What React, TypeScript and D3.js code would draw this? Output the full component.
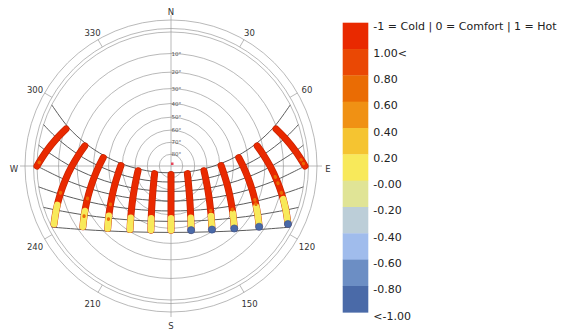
import { useEffect, useRef } from "react";
import * as d3 from "d3";

type Pos = [number, number]; // [azimuth deg, altitude deg]

const ALTITUDE_RINGS = [10, 20, 30, 40, 50, 60, 70, 80];
const AZIMUTH_LABELS = [30, 60, 120, 150, 210, 240, 300, 330];
const CARDINALS: [string, number][] = [
  ["N", 0],
  ["E", 90],
  ["S", 180],
  ["W", 270],
];

// daily sun-path arcs, sunrise -> sunset, summer to winter
const ARC_1: Pos[] = [
  [62.86, 0], [69.29, 11.23], [75.41, 23.69], [81.24, 36.49], [87.41, 49.5],
  [95.23, 62.57], [110.08, 75.36], [180, 84.14], [249.92, 75.36], [264.77, 62.57],
  [272.59, 49.5], [278.76, 36.49], [284.59, 23.69], [290.71, 11.23], [297.14, 0],
];
const ARC_2: Pos[] = [
  [72.01, 0], [76.29, 7.58], [83.08, 20.44], [90.05, 33.49], [98.22, 46.53],
  [109.79, 59.22], [131.49, 70.57], [180, 76.33], [228.51, 70.57], [250.21, 59.22],
  [261.78, 46.53], [269.95, 33.49], [276.92, 20.44], [283.71, 7.58], [287.99, 0],
];
const ARC_3: Pos[] = [
  [81.04, 0], [83.18, 3.81], [90.42, 16.87], [98.22, 29.9], [107.76, 42.64],
  [121.32, 54.56], [143.76, 64.3], [180, 68.51], [216.24, 64.3], [238.68, 54.56],
  [252.24, 42.64], [261.78, 29.9], [269.58, 16.87], [276.82, 3.81], [278.96, 0],
];
const ARC_4: Pos[] = [
  [90, 0], [97.47, 13.04], [105.78, 25.85], [116.08, 38.07], [130.29, 49.05],
  [151.3, 57.39], [180, 60.7], [208.7, 57.39], [229.71, 49.05], [243.92, 38.07],
  [254.22, 25.85], [262.53, 13.04], [270, 0],
];
const ARC_5: Pos[] = [
  [98.96, 0], [104.3, 9.04], [112.81, 21.44], [123.37, 32.99], [137.39, 42.98],
  [156.39, 50.18], [180, 52.89], [203.61, 50.18], [222.61, 42.98], [236.63, 32.99],
  [247.19, 21.44], [255.7, 9.04], [261.04, 0],
];
const ARC_6: Pos[] = [
  [107.99, 0], [110.99, 4.91], [119.43, 16.74], [129.84, 27.52], [143.18, 36.55],
  [160.16, 42.79], [180, 45.07], [199.84, 42.79], [216.82, 36.55], [230.16, 27.52],
  [240.57, 16.74], [249.01, 4.91], [252.01, 0],
];
const ARC_7: Pos[] = [
  [117.14, 0], [117.59, 0.71], [125.72, 11.85], [135.69, 21.78], [148.06, 29.88],
  [163.08, 35.32], [180, 37.26], [196.92, 35.32], [211.94, 29.88], [224.31, 21.78],
  [234.28, 11.85], [242.41, 0.71], [242.86, 0],
];
const DAY_ARCS = [ARC_1, ARC_2, ARC_3, ARC_4, ARC_5, ARC_6, ARC_7];

// hourly sun positions through the year, summer end -> winter end
const HOURS = [6, 7, 8, 9, 10, 11, 12, 13, 14, 15, 16, 17, 18];
const HOUR_TRACKS: Pos[][] = [
  [[70.59, 10.56], [76.29, 7.58], [83.18, 3.81], [90, 0]],
  [[76.85, 23.12], [83.08, 20.44], [90.42, 16.87], [97.47, 13.04], [104.3, 9.04], [110.99, 4.91], [116.38, 1.49]],
  [[82.91, 35.99], [90.05, 33.49], [98.22, 29.9], [105.78, 25.85], [112.81, 21.44], [119.43, 16.74], [124.58, 12.77]],
  [[89.49, 49.03], [98.22, 46.53], [107.76, 42.64], [116.08, 38.07], [123.37, 32.99], [129.84, 27.52], [134.64, 22.86]],
  [[98.14, 62.08], [109.79, 59.22], [121.32, 54.56], [130.29, 49.05], [137.39, 42.98], [143.18, 36.55], [147.2, 31.13]],
  [[114.94, 74.66], [131.49, 70.57], [143.76, 64.3], [151.3, 57.39], [156.39, 50.18], [160.16, 42.79], [162.58, 36.7]],
  [[180, 82.7], [180, 76.33], [180, 68.51], [180, 60.7], [180, 52.89], [180, 45.07], [180, 38.7]],
  [[245.06, 74.66], [228.51, 70.57], [216.24, 64.3], [208.7, 57.39], [203.61, 50.18], [199.84, 42.79], [197.42, 36.7]],
  [[261.86, 62.08], [250.21, 59.22], [238.68, 54.56], [229.71, 49.05], [222.61, 42.98], [216.82, 36.55], [212.8, 31.13]],
  [[270.51, 49.03], [261.78, 46.53], [252.24, 42.64], [243.92, 38.07], [236.63, 32.99], [230.16, 27.52], [225.36, 22.86]],
  [[277.09, 35.99], [269.95, 33.49], [261.78, 29.9], [254.22, 25.85], [247.19, 21.44], [240.57, 16.74], [235.42, 12.77]],
  [[283.15, 23.12], [276.92, 20.44], [269.58, 16.87], [262.53, 13.04], [255.7, 9.04], [249.01, 4.91], [243.62, 1.49]],
  [[289.41, 10.56], [283.71, 7.58], [276.82, 3.81], [270, 0]],
];

// comfort along each hour track (share of the track length, from the summer end)
const HOT_UNTIL = [1, 0.7, 0.72, 0.76, 0.77, 0.78, 0.78, 0.79, 0.8, 0.8, 0.78, 0.77, 1];
const WARM_SPOTS: number[][] = [
  [0.84, 0.93], [0.42, 0.5, 0.62], [0.62, 0.68], [0.7], [0.68], [], [], [], [],
  [0.62, 0.85], [0.6, 0.85], [0.62], [0.9],
];
const COLD_END = [false, true, true, true, true, true, false, false, false, false, false, false, false];

const LEGEND_COLORS = [
  "#e92900", "#ea4804", "#ea6c04", "#f09114", "#f5c431", "#f8e95a",
  "#e0e496", "#bcced8", "#a0bcec", "#6c8ec4", "#4a6aa8",
];
const LEGEND_LABELS = [
  "-1 = Cold | 0 = Comfort | 1 = Hot", "1.00<", "0.80", "0.60", "0.40", "0.20",
  "-0.00", "-0.20", "-0.40", "-0.60", "-0.80", "<-1.00",
];

const W = 565;
const H = 333;

export default function App() {
  const ref = useRef<SVGSVGElement | null>(null);

  useEffect(() => {
    if (!ref.current) return;
    const svg = d3.select(ref.current);
    svg.selectAll("*").remove();

    const cx = 171;
    const cy = 166;
    const R = 134;
    const rad = (d: number) => (d * Math.PI) / 180;
    // stereographic sky dome: radius grows with tan of half the zenith angle
    const rScale = d3.scaleLinear().domain([0, 1]).range([0, R]);
    const rOf = (alt: number) => rScale(Math.tan(rad((90 - alt) / 2)));
    const project = ([az, alt]: Pos) => d3.pointRadial(rad(az), rOf(alt));

    const line = d3
      .line<Pos>()
      .x((p) => project(p)[0])
      .y((p) => project(p)[1])
      .curve(d3.curveCatmullRom.alpha(0.5));

    const g = svg.append("g").attr("transform", `translate(${cx},${cy})`);
    const font = "DejaVu Sans, Verdana, sans-serif";
    const grid = "#9b9b9b";

    // ── Compass rings and ticks ─────────────────────────────────────────────

    [146, 137.5, R].forEach((r) =>
      g.append("circle").attr("r", r).attr("fill", "none").attr("stroke", grid).attr("stroke-width", 0.7)
    );

    g.append("line").attr("x1", 0).attr("x2", 0).attr("y1", -151).attr("y2", 151)
      .attr("stroke", grid).attr("stroke-width", 0.7);
    g.append("line").attr("y1", 0).attr("y2", 0).attr("x1", -151).attr("x2", 151)
      .attr("stroke", grid).attr("stroke-width", 0.7);

    AZIMUTH_LABELS.forEach((a) => {
      const [x1, y1] = d3.pointRadial(rad(a), 137.5);
      const [x2, y2] = d3.pointRadial(rad(a), 146);
      g.append("line").attr("x1", x1).attr("y1", y1).attr("x2", x2).attr("y2", y2)
        .attr("stroke", grid).attr("stroke-width", 0.7);
      const [tx, ty] = d3.pointRadial(rad(a), 157);
      g.append("text").attr("x", tx).attr("y", ty + 2.5).attr("text-anchor", "middle")
        .attr("dominant-baseline", "central").attr("font-family", font).attr("font-size", 8.5)
        .attr("fill", "#333").text(String(a));
    });

    CARDINALS.forEach(([t, a]) => {
      const [tx, ty] = d3.pointRadial(rad(a), 157);
      g.append("text").attr("x", tx).attr("y", ty + 2.5).attr("text-anchor", "middle")
        .attr("dominant-baseline", "central").attr("font-family", font).attr("font-size", 8.5)
        .attr("fill", "#333").text(t);
    });

    // ── Altitude rings ──────────────────────────────────────────────────────

    ALTITUDE_RINGS.forEach((alt) => {
      const r = rOf(alt);
      g.append("circle").attr("r", r).attr("fill", "none").attr("stroke", grid).attr("stroke-width", 0.7);
      g.append("text").attr("x", 0.5).attr("y", -r + 2).attr("font-family", font).attr("font-size", 5.5)
        .attr("fill", "#555").text(`${alt}°`);
    });

    g.append("rect").attr("x", 0).attr("y", -3.5).attr("width", 2.5).attr("height", 2.5).attr("fill", "#e8455a");

    // ── Daily arcs ──────────────────────────────────────────────────────────

    DAY_ARCS.forEach((arc) =>
      g.append("path").attr("d", line(arc)).attr("fill", "none").attr("stroke", "#4a4a4a").attr("stroke-width", 0.9)
    );

    // ── Hourly tracks coloured by comfort ───────────────────────────────────

    const colour = d3
      .scaleThreshold<number, string>()
      .domain([-0.8, -0.6, -0.4, -0.2, 0, 0.2, 0.4, 0.6, 0.8, 1])
      .range(LEGEND_COLORS.slice().reverse());
    const hot = colour(1.2);
    const comfy = colour(0.1);
    const warm = colour(0.7);
    const cold = colour(-1.2);

    const segment = (d: string, from: number, to: number, stroke: string, width: number) => {
      const len = to - from;
      g.append("path").attr("d", d).attr("pathLength", 100).attr("fill", "none")
        .attr("stroke", stroke).attr("stroke-width", width).attr("stroke-linecap", "round")
        .attr("stroke-dasharray", `${len} ${110 - len}`).attr("stroke-dashoffset", 110 - from);
    };

    HOUR_TRACKS.forEach((track, i) => {
      const d = line(track) as string;
      g.append("path").attr("d", d).attr("fill", "none").attr("stroke", "#c62400")
        .attr("stroke-width", 7).attr("stroke-linecap", "round");
      g.append("path").attr("d", d).attr("fill", "none").attr("stroke", hot)
        .attr("stroke-width", 5.6).attr("stroke-linecap", "round");
      if (HOT_UNTIL[i] < 1) segment(d, HOT_UNTIL[i] * 100, 100, comfy, 6.4);
      WARM_SPOTS[i].forEach((f) => segment(d, f * 100, f * 100 + 1, warm, 3.2));
      if (COLD_END[i]) {
        const [x, y] = project(track[track.length - 1]);
        g.append("circle").attr("cx", x).attr("cy", y).attr("r", 3.6).attr("fill", cold)
          .attr("stroke", "#34518f").attr("stroke-width", 0.6);
      }
    });

    // ── Legend ──────────────────────────────────────────────────────────────

    const lg = svg.append("g").attr("transform", "translate(342.7,22.7)");
    const band = 26.33;
    LEGEND_COLORS.forEach((c, i) =>
      lg.append("rect").attr("x", 0).attr("y", i * band).attr("width", 25.6).attr("height", band + 0.3).attr("fill", c)
    );
    LEGEND_LABELS.forEach((t, i) =>
      lg.append("text").attr("x", 30.6).attr("y", i * band + 4).attr("dominant-baseline", "central")
        .attr("font-family", font).attr("font-size", 11).attr("fill", "#222").text(t)
    );
  }, []);

  return (
    <svg
      ref={ref}
      width={W}
      height={H}
      style={{ position: "absolute", left: 0, top: 0, background: "#fff" }}
    />
  );
}
